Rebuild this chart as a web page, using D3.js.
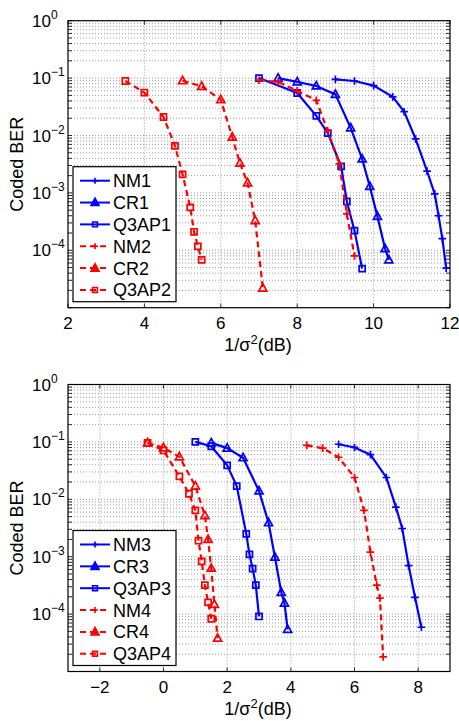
<!DOCTYPE html>
<html>
<head>
<meta charset="utf-8">
<script src="https://cdn.jsdelivr.net/npm/d3@7"></script>
<style>
  body { margin: 0; background: #fff; }
  text { font-family: "Liberation Sans", Arial, sans-serif; fill: #000; }
</style>
</head>
<body>
<div id="chart"></div>
<script>
// top panel
let topTicks = [2, 4, 6, 8, 10, 12];
let nm1X = [9, 9.5, 10, 10.5, 10.8, 11.1, 11.4, 11.6, 11.7, 11.8, 11.9];
let nm1Y = [0.095, 0.089, 0.074, 0.047, 0.026, 0.0087, 0.0024, 9.6e-4, 4e-4, 1.6e-4, 4.9e-5];
let cr1X = [7.5, 8, 8.5, 9, 9.4, 9.7, 9.9, 10.1, 10.3, 10.4];
let cr1Y = [0.1, 0.086, 0.073, 0.052, 0.0136, 0.0039, 0.0013, 3.9e-4, 1.07e-4, 6.8e-5];
let q1X = [7, 8, 8.5, 8.8, 9.15, 9.3, 9.5, 9.7];
let q1Y = [0.1, 0.055, 0.022, 0.011, 0.0029, 7.1e-4, 2.2e-4, 4.8e-5];
let nm2X = [7, 7.5, 8, 8.5, 8.8, 9.1, 9.3, 9.5];
let nm2Y = [0.092, 0.086, 0.06, 0.041, 0.012, 0.0032, 4.3e-4, 8e-5];
let cr2X = [5, 5.5, 6, 6.3, 6.5, 6.7, 6.9, 7.1];
let cr2Y = [0.09, 0.072, 0.042, 0.0094, 0.0033, 0.0015, 3.3e-4, 2.2e-5];
let q2X = [3.5, 4, 4.5, 4.8, 5, 5.2, 5.3, 5.4, 5.5];
let q2Y = [0.089, 0.056, 0.021, 0.0066, 0.0021, 5.6e-4, 2.1e-4, 1.17e-4, 6.8e-5];

// bottom panel
let bottomTicks = [-2, 0, 2, 4, 6, 8];
let nm3X = [5.5, 6, 6.5, 7, 7.3, 7.5, 7.7, 7.9, 8.1];
let nm3Y = [0.091, 0.08, 0.06, 0.024, 0.0073, 0.0031, 7e-4, 1.96e-4, 5.9e-5];
let cr3X = [1.5, 2, 2.5, 3, 3.3, 3.5, 3.7, 3.8, 3.9];
let cr3Y = [0.096, 0.078, 0.053, 0.014, 0.0039, 9.8e-4, 2.4e-4, 1.55e-4, 5.4e-5];
let q3X = [1, 1.5, 2, 2.3, 2.6, 2.7, 2.8, 2.9, 3];
let q3Y = [0.1, 0.084, 0.039, 0.017, 0.0025, 0.0011, 6.2e-4, 3.2e-4, 9.1e-5];
let nm4X = [4.5, 5, 5.5, 6, 6.3, 6.5, 6.7, 6.8, 6.9];
let nm4Y = [0.087, 0.078, 0.054, 0.024, 0.0064, 0.0012, 3.2e-4, 1.9e-4, 1.8e-5];
let cr4X = [-0.5, 0, 0.5, 1, 1.3, 1.4, 1.5, 1.6, 1.7];
let cr4Y = [0.096, 0.079, 0.055, 0.017, 0.0052, 0.002, 6.3e-4, 1.47e-4, 3.8e-5];
let q4X = [-0.5, 0, 0.5, 0.8, 1, 1.1, 1.2, 1.3, 1.4, 1.5];
let q4Y = [0.096, 0.071, 0.025, 0.0125, 0.0064, 0.0019, 8.3e-4, 3.2e-4, 1.6e-4, 8.3e-5];

// labelled decades (10^-5 sits on the box edge and has no label)
let decades = [1, 1e-1, 1e-2, 1e-3, 1e-4];

const W = 459, H = 721;
const BLUE = "#0000ff", RED = "#ff0000";

let svg = d3.select("#chart").append("svg")
    .attr("width", W).attr("height", H);

function markerPath(kind, s) {
    if (kind == "plus") return `M${-s},0H${s}M0,${-s}V${s}`;
    if (kind == "tri") return `M0,${-s * 1.1}L${s},${s * 0.75}L${-s},${s * 0.75}Z`;
    return `M${-s * 0.8},${-s * 0.8}H${s * 0.8}V${s * 0.8}H${-s * 0.8}Z`;
}

function drawPanel(top, domain, ticks, series) {
    let left = 68, right = 450, bottom = top + 287;
    let x = d3.scaleLinear().domain(domain).range([left, right]);
    let y = d3.scaleLog().domain([1e-5, 1]).range([bottom, top]);
    let g = svg.append("g");

    // minor + major y values
    let yAll = [];
    for (let e = -5; e < 0; e++)
        for (let m = 1; m < 10; m++) yAll.push(m * Math.pow(10, e));

    // grid
    g.selectAll(".hg").data(yAll.filter(v => v > 1e-5)).enter().append("line")
        .attr("x1", left).attr("x2", right)
        .attr("y1", d => y(d)).attr("y2", d => y(d))
        .attr("stroke", "#888").attr("stroke-width", 0.8)
        .attr("stroke-dasharray", "1,2");
    g.selectAll(".vg").data(ticks.filter(t => x(t) > left + 1 && x(t) < right - 1)).enter().append("line")
        .attr("x1", d => x(d)).attr("x2", d => x(d))
        .attr("y1", top).attr("y2", bottom)
        .attr("stroke", "#888").attr("stroke-width", 0.8)
        .attr("stroke-dasharray", "1,2");

    // ticks inside the box
    g.selectAll(".yt").data(yAll.concat([1])).enter().append("path")
        .attr("d", d => `M${left},${y(d)}h4M${right},${y(d)}h-4`)
        .attr("stroke", "#000").attr("stroke-width", 0.8);
    g.selectAll(".xt").data(ticks).enter().append("path")
        .attr("d", d => `M${x(d)},${bottom}v-4M${x(d)},${top}v4`)
        .attr("stroke", "#000").attr("stroke-width", 0.8);

    // y tick labels 10^n
    let yl = g.selectAll(".yl").data(decades).enter().append("text")
        .attr("x", 32).attr("y", d => y(d) + 6)
        .attr("font-size", 17);
    yl.append("tspan").text("10");
    yl.append("tspan").attr("dy", -8).attr("font-size", 12)
        .text(d => d == 1 ? "0" : "\u2212" + Math.round(-Math.log10(d)));

    // x tick labels
    g.selectAll(".xl").data(ticks).enter().append("text")
        .attr("x", d => x(d)).attr("y", bottom + 21)
        .attr("text-anchor", "middle").attr("font-size", 17)
        .text(d => d < 0 ? "\u2212" + (-d) : d);

    // axis labels
    let xlab = g.append("text")
        .attr("x", 258).attr("y", bottom + 43)
        .attr("text-anchor", "middle").attr("font-size", 18);
    xlab.append("tspan").text("1/\u03c3");
    xlab.append("tspan").attr("dy", -7).attr("font-size", 13).text("2");
    xlab.append("tspan").attr("dy", 7).text("(dB)");

    g.append("text")
        .attr("transform", `translate(23,${(top + bottom) / 2}) rotate(-90)`)
        .attr("text-anchor", "middle").attr("font-size", 18)
        .text("Coded BER");

    // curves
    let line = d3.line().x(d => x(d[0])).y(d => y(d[1]));
    series.forEach(s => {
        let pts = d3.zip(s.xs, s.ys);
        g.append("path").datum(pts)
            .attr("d", line)
            .attr("fill", "none")
            .attr("stroke", s.color).attr("stroke-width", 2.2)
            .attr("stroke-dasharray", s.dash ? "6,4" : null);
        g.selectAll(null).data(pts).enter().append("path")
            .attr("transform", d => `translate(${x(d[0])},${y(d[1])})`)
            .attr("d", markerPath(s.marker, s.marker == "tri" ? 4 : 3.8))
            .attr("fill", "none")
            .attr("stroke", s.color).attr("stroke-width", 1.7);
    });

    // box
    g.append("rect")
        .attr("x", left).attr("y", top)
        .attr("width", right - left).attr("height", bottom - top)
        .attr("fill", "none").attr("stroke", "#000").attr("stroke-width", 1.2);

    // legend
    let lx = 73, ly = top + 146;
    let lg = g.append("g");
    lg.append("rect")
        .attr("x", lx).attr("y", ly)
        .attr("width", 103).attr("height", 135)
        .attr("fill", "#fff").attr("stroke", "#000").attr("stroke-width", 1.2);
    series.forEach((s, i) => {
        let cy = ly + 14 + i * 21.85;
        lg.append("line")
            .attr("x1", lx + 7).attr("x2", lx + 37)
            .attr("y1", cy).attr("y2", cy)
            .attr("stroke", s.color).attr("stroke-width", 2)
            .attr("stroke-dasharray", s.dash ? "6,4" : null);
        lg.append("path")
            .attr("transform", `translate(${lx + 22},${cy})`)
            .attr("d", markerPath(s.marker, s.marker == "tri" ? 4 : 3))
            .attr("fill", s.marker == "tri" ? s.color : "none")
            .attr("stroke", s.color).attr("stroke-width", 1.6);
        lg.append("text")
            .attr("x", lx + 40).attr("y", cy + 6.5)
            .attr("font-size", 18)
            .text(s.name);
    });
}

drawPanel(20.7, [2, 12], topTicks, [
    {name: "NM1", xs: nm1X, ys: nm1Y, color: BLUE, dash: false, marker: "plus"},
    {name: "CR1", xs: cr1X, ys: cr1Y, color: BLUE, dash: false, marker: "tri"},
    {name: "Q3AP1", xs: q1X, ys: q1Y, color: BLUE, dash: false, marker: "sq"},
    {name: "NM2", xs: nm2X, ys: nm2Y, color: RED, dash: true, marker: "plus"},
    {name: "CR2", xs: cr2X, ys: cr2Y, color: RED, dash: true, marker: "tri"},
    {name: "Q3AP2", xs: q2X, ys: q2Y, color: RED, dash: true, marker: "sq"}
]);

drawPanel(384.5, [-3, 9], bottomTicks, [
    {name: "NM3", xs: nm3X, ys: nm3Y, color: BLUE, dash: false, marker: "plus"},
    {name: "CR3", xs: cr3X, ys: cr3Y, color: BLUE, dash: false, marker: "tri"},
    {name: "Q3AP3", xs: q3X, ys: q3Y, color: BLUE, dash: false, marker: "sq"},
    {name: "NM4", xs: nm4X, ys: nm4Y, color: RED, dash: true, marker: "plus"},
    {name: "CR4", xs: cr4X, ys: cr4Y, color: RED, dash: true, marker: "tri"},
    {name: "Q3AP4", xs: q4X, ys: q4Y, color: RED, dash: true, marker: "sq"}
]);
</script>
</body>
</html>
